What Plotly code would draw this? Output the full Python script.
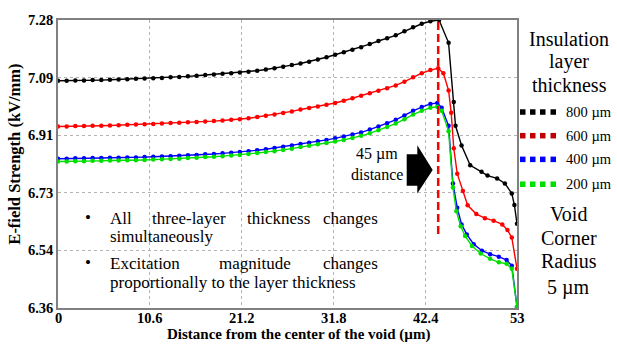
import plotly.graph_objects as go

# ---------------- data ----------------
x_rise = list(range(0, 44))

black_rise = [7.086, 7.086, 7.087, 7.087, 7.088, 7.088, 7.089, 7.090, 7.091, 7.092,
              7.093, 7.094, 7.095, 7.097, 7.098, 7.100, 7.102, 7.104, 7.106, 7.108,
              7.110, 7.112, 7.115, 7.118, 7.122, 7.126, 7.131, 7.136, 7.141, 7.147,
              7.154, 7.161, 7.169, 7.177, 7.185, 7.193, 7.203, 7.213, 7.222, 7.231,
              7.244, 7.257, 7.268, 7.276]
black_tail_x = [44.0, 45.1, 45.7, 45.9, 46.6, 47.6, 48.9, 49.6, 50.7, 51.6, 52.4, 52.7, 53.0]
black_tail_y = [7.280, 7.207, 7.018, 6.942, 6.879, 6.816, 6.795, 6.783, 6.774, 6.758, 6.726, 6.689, 6.629]

red_rise = [6.940, 6.940, 6.941, 6.941, 6.942, 6.942, 6.943, 6.944, 6.945, 6.946,
            6.947, 6.948, 6.949, 6.951, 6.952, 6.953, 6.954, 6.956, 6.957, 6.959,
            6.961, 6.963, 6.966, 6.970, 6.974, 6.978, 6.983, 6.988, 6.994, 6.999,
            7.004, 7.009, 7.015, 7.022, 7.030, 7.038, 7.046, 7.054, 7.062, 7.071,
            7.083, 7.097, 7.110, 7.120]
red_tail_x = [43.9, 44.5, 45.1, 45.4, 45.7, 46.1, 46.75, 47.3, 48.3, 49.3, 50.3, 51.3, 51.9, 52.4, 53.0]
red_tail_y = [7.126, 7.110, 7.055, 6.984, 6.870, 6.789, 6.734, 6.688, 6.660, 6.647, 6.639, 6.627, 6.609, 6.585, 6.485]

blue_rise = [6.837, 6.837, 6.838, 6.838, 6.839, 6.839, 6.840, 6.840, 6.841, 6.841,
             6.842, 6.843, 6.844, 6.845, 6.846, 6.848, 6.849, 6.851, 6.852, 6.854,
             6.856, 6.858, 6.861, 6.864, 6.867, 6.871, 6.875, 6.879, 6.884, 6.888,
             6.893, 6.897, 6.902, 6.908, 6.914, 6.921, 6.930, 6.940, 6.950, 6.961,
             6.975, 6.990, 7.002, 7.012]
blue_tail_x = [43.8, 44.3, 45.1, 45.6, 46.1, 46.6, 47.2, 48.0, 48.95, 49.9, 50.9, 51.8, 52.4, 53.0]
blue_tail_y = [7.015, 7.000, 6.942, 6.758, 6.680, 6.627, 6.595, 6.564, 6.543, 6.532, 6.524, 6.513, 6.495, 6.364]

green_rise = [6.828, 6.828, 6.829, 6.829, 6.830, 6.830, 6.831, 6.831, 6.832, 6.832,
              6.833, 6.834, 6.835, 6.836, 6.837, 6.839, 6.840, 6.842, 6.843, 6.845,
              6.847, 6.849, 6.852, 6.855, 6.858, 6.861, 6.865, 6.869, 6.874, 6.878,
              6.883, 6.887, 6.892, 6.897, 6.903, 6.910, 6.918, 6.928, 6.938, 6.949,
              6.963, 6.978, 6.990, 7.000]
green_tail_x = [43.8, 44.3, 45.1, 45.6, 46.0, 46.5, 47.0, 47.8, 48.8, 49.9, 50.9, 51.8, 52.4, 53.0]
green_tail_y = [7.003, 6.990, 6.925, 6.745, 6.669, 6.621, 6.590, 6.558, 6.534, 6.517, 6.506, 6.501, 6.485, 6.364]

series_names = ["800 µm", "600 µm", "400 µm", "200 µm"]
x_ticks = [0, 10.6, 21.2, 31.8, 42.4, 53]
x_ticktext = ["0", "10.6", "21.2", "31.8", "42.4", "53"]
y_ticks = [6.36, 6.544, 6.728, 6.912, 7.096, 7.28]
y_ticktext = ["6.36", "6.54", "6.73", "6.91", "7.09", "7.28"]
marker_line_x = 43.9
marker_line_y = [6.596, 7.28]

# ---------------- styles ----------------
line_colors = ["#000000", "#ff0000", "#0000ff", "#00e000"]
legend_colors = ["#000000", "#c00000", "#0000ff", "#00e000"]
SERIF = "Liberation Serif, Times New Roman, serif"

W, H = 617, 344
L, R, T, B = 58, 100, 16, 36
PW, PH = W - L - R, H - T - B


def px(xp):
    return (xp - L) / PW


def py(yp):
    return (H - B - yp) / PH


fig = go.Figure()
series = [
    (x_rise + black_tail_x, black_rise + black_tail_y),
    (x_rise + red_tail_x, red_rise + red_tail_y),
    (x_rise + blue_tail_x, blue_rise + blue_tail_y),
    (x_rise + green_tail_x, green_rise + green_tail_y),
]
for (xs, ys), name, col in zip(series, series_names, line_colors):
    fig.add_trace(go.Scatter(x=xs, y=ys, name=name, mode="lines+markers",
                             line=dict(color=col, width=1.4),
                             marker=dict(color=col, size=4.5), showlegend=False))

shapes = []
# red dashed marker line
shapes.append(dict(type="line", xref="x", yref="y", x0=marker_line_x, x1=marker_line_x,
                   y0=marker_line_y[0], y1=marker_line_y[1],
                   line=dict(color="#ff0000", width=2.5, dash="8px,4px")))
# block arrow
pts = [(406.7, 152), (417.3, 152), (417.3, 143), (432.7, 168), (417.3, 192), (417.3, 184), (406.7, 184)]
path = "M " + " L ".join(f"{px(a):.4f},{py(b):.4f}" for a, b in pts) + " Z"
shapes.append(dict(type="path", xref="paper", yref="paper", path=path,
                   fillcolor="black", line=dict(color="black", width=0)))
# legend squares
row_y = [109.3, 133.3, 157.3, 182.5]
for ry, col in zip(row_y, legend_colors):
    for sx in [520, 530, 540, 550.5]:
        shapes.append(dict(type="rect", xref="paper", yref="paper",
                           x0=px(sx), x1=px(sx + 5.5), y0=py(ry + 2.8), y1=py(ry - 2.8),
                           fillcolor=col, line=dict(width=0)))

ann = []


def text(t, xp, yp, size, xanchor="center", bold=False, angle=0):
    ann.append(dict(text=t, x=px(xp), y=py(yp), xref="paper", yref="paper",
                    xanchor=xanchor, yanchor="middle", showarrow=False, textangle=angle,
                    font=dict(family=SERIF, size=size, color="black",
                              weight="bold" if bold else "normal")))


# x tick labels (placed close under the axis, as in the reference)
for v, t in zip(x_ticks, x_ticktext):
    ann.append(dict(text=t, x=v, xref="x", y=py(318.5), yref="paper",
                    xanchor="center", yanchor="middle", showarrow=False,
                    font=dict(family=SERIF, size=14.5, color="black", weight="bold")))

# right-hand labels
text("Insulation", 569, 35, 20)
text("layer", 569, 58, 20)
text("thickness", 569, 82, 20)
for ry, nm in zip(row_y, series_names):
    text(nm, 564, ry, 14.5, xanchor="left")
text("Void", 568, 213, 20)
text("Corner", 569, 237, 20)
text("Radius", 569, 260, 20)
text("5 µm", 568, 287, 20)

# arrow caption
text("45 µm", 377, 152, 16)
text("distance", 377, 173, 16)

# bullets
text("•", 88, 216, 17)
text("All", 108, 217, 17, xanchor="left")
text("three-layer", 150, 217, 17, xanchor="left")
text("thickness", 245, 217, 17, xanchor="left")
text("changes", 380, 217, 17, xanchor="right")
text("simultaneously", 108, 235.5, 17, xanchor="left")
text("•", 88, 262, 17)
text("Excitation", 108, 263, 17, xanchor="left")
text("magnitude", 216.5, 263, 17, xanchor="left")
text("changes", 380, 263, 17, xanchor="right")
text("proportionally to the layer thickness", 108, 282, 17, xanchor="left")

# axis titles
text("E-field Strength (kV/mm)", 15, 152.5, 16.5, bold=True, angle=-90)
text("Distance from the center of the void (µm)", 298, 335, 15, bold=True)

axis_common = dict(showline=True, linecolor="#808080", linewidth=1.5, mirror=True,
                   showgrid=True, gridcolor="#b4b4b4", griddash="dot", gridwidth=1,
                   zeroline=False, ticks="",
                   tickfont=dict(family=SERIF, size=14.5, color="black", weight="bold"))

fig.update_layout(
    width=W, height=H,
    margin=dict(l=L, r=R, t=T, b=B),
    paper_bgcolor="white", plot_bgcolor="white",
    xaxis=dict(range=[0, 53], tickvals=x_ticks, showticklabels=False, **axis_common),
    yaxis=dict(range=[6.36, 7.28], tickvals=y_ticks, ticktext=y_ticktext, **axis_common),
    shapes=shapes, annotations=ann, showlegend=False,
)

fig.write_html("out.html")
